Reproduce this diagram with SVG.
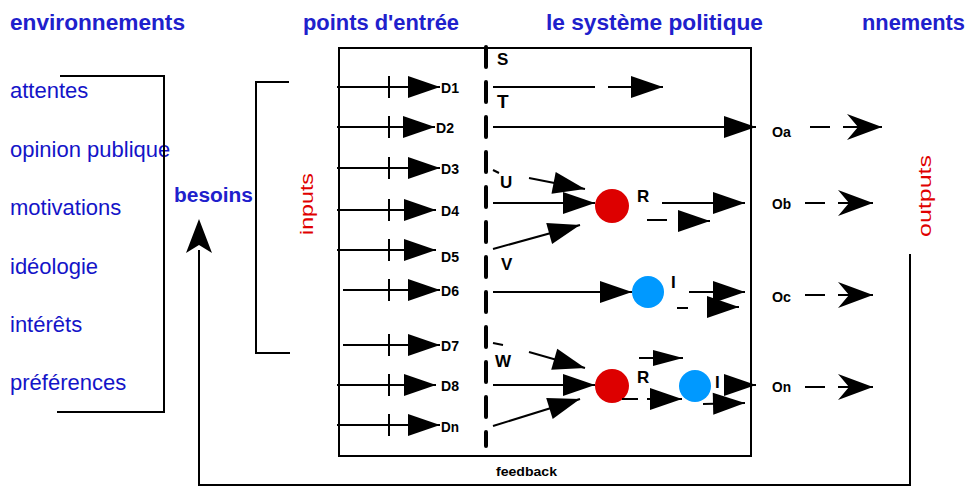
<svg xmlns="http://www.w3.org/2000/svg" width="970" height="487" viewBox="0 0 970 487">
<defs>
<marker id="tri" markerUnits="userSpaceOnUse" markerWidth="34" markerHeight="22" refX="32" refY="11" orient="auto" overflow="visible"><path d="M0,0 L32,11 L0,22 z" fill="#000"/></marker>
<marker id="triS" markerUnits="userSpaceOnUse" markerWidth="30" markerHeight="16" refX="30" refY="8" orient="auto" overflow="visible"><path d="M0,0 L30,8 L0,16 z" fill="#000"/></marker>
<marker id="barb" markerUnits="userSpaceOnUse" markerWidth="35" markerHeight="26" refX="35" refY="13" orient="auto" overflow="visible"><path d="M0,0 L35,13 L0,26 L11,13 z" fill="#000"/></marker>
</defs>
<style>
.hd{font-family:"Liberation Sans",Arial,sans-serif;font-weight:bold;font-size:22px;fill:#2020cc}
.ls{font-family:"Liberation Sans",Arial,sans-serif;font-size:22px;fill:#1414c8}
.red{font-family:"Liberation Sans",Arial,sans-serif;font-size:18px;fill:#e00000}
.d{font-family:"Liberation Sans",Arial,sans-serif;font-weight:bold;font-size:14px;fill:#000}
.lt{font-family:"Liberation Sans",Arial,sans-serif;font-weight:bold;font-size:17px;fill:#000}
.ln{stroke:#000;stroke-width:2;fill:none}
.a{stroke:#000;stroke-width:2;fill:none;marker-end:url(#tri)}
.as{stroke:#000;stroke-width:2;fill:none;marker-end:url(#triS)}
.ab{stroke:#000;stroke-width:2;fill:none;marker-end:url(#barb)}
.dv{stroke:#000;stroke-width:4;stroke-linecap:round;stroke-dasharray:20 15;fill:none}
.rc{fill:#dd0000}
.bc{fill:#0099ff}
</style>

<g id="headers">
<text class="hd" x="10" y="30" textLength="175" lengthAdjust="spacingAndGlyphs">environnements</text>
<text class="hd" x="303" y="30" textLength="156" lengthAdjust="spacingAndGlyphs">points d'entrée</text>
<text class="hd" x="546" y="30" textLength="217" lengthAdjust="spacingAndGlyphs">le système politique</text>
<text class="hd" x="862" y="30" textLength="103" lengthAdjust="spacingAndGlyphs">nnements</text>
</g>

<g id="environnement-list">
<text class="ls" x="10" y="98">attentes</text>
<text class="ls" x="10" y="157">opinion publique</text>
<text class="ls" x="10" y="215">motivations</text>
<text class="ls" x="10" y="274">idéologie</text>
<text class="ls" x="10" y="332">intérêts</text>
<text class="ls" x="10" y="390">préférences</text>
</g>

<g id="besoins">
<text class="hd" x="174" y="202" style="font-size:20px" textLength="79" lengthAdjust="spacingAndGlyphs">besoins</text>
</g>

<g id="inputs-label">
<text class="red" transform="translate(313,204) rotate(-90)" text-anchor="middle" textLength="62" lengthAdjust="spacingAndGlyphs">inputs</text>
</g>

<g id="outputs-label">
<text class="red" transform="translate(931,196) rotate(-90)" text-anchor="middle" textLength="82" lengthAdjust="spacingAndGlyphs">outputs</text>
</g>

<g id="systeme-box">
<rect x="339" y="48" width="412" height="408" class="ln"/>
</g>

<g id="entry-labels">
<text class="d" x="441" y="93" textLength="18" lengthAdjust="spacingAndGlyphs">D1</text>
<text class="d" x="436" y="133" textLength="18" lengthAdjust="spacingAndGlyphs">D2</text>
<text class="d" x="441" y="174" textLength="18" lengthAdjust="spacingAndGlyphs">D3</text>
<text class="d" x="441" y="216" textLength="18" lengthAdjust="spacingAndGlyphs">D4</text>
<text class="d" x="441" y="262" textLength="18" lengthAdjust="spacingAndGlyphs">D5</text>
<text class="d" x="441" y="296" textLength="18" lengthAdjust="spacingAndGlyphs">D6</text>
<text class="d" x="441" y="351" textLength="18" lengthAdjust="spacingAndGlyphs">D7</text>
<text class="d" x="441" y="391" textLength="18" lengthAdjust="spacingAndGlyphs">D8</text>
<text class="d" x="441" y="432" textLength="18" lengthAdjust="spacingAndGlyphs">Dn</text>
</g>

<g id="process-labels">
<text class="lt" x="497" y="65">S</text>
<text class="lt" x="497" y="108" style="font-size:19px">T</text>
<text class="lt" x="500" y="188">U</text>
<text class="lt" x="501" y="270">V</text>
<text class="lt" x="495" y="367">W</text>
<text class="lt" x="637" y="202">R</text>
<text class="lt" x="637" y="383">R</text>
<text class="lt" x="671" y="288">I</text>
<text class="lt" x="715" y="388">I</text>
<text class="d" x="496" y="476" style="font-size:12px" textLength="61" lengthAdjust="spacingAndGlyphs">feedback</text>
</g>

<g id="outputs">
<text class="d" x="772" y="137" style="font-size:15px" textLength="19" lengthAdjust="spacingAndGlyphs">Oa</text>
<text class="d" x="772" y="209" style="font-size:15px" textLength="19" lengthAdjust="spacingAndGlyphs">Ob</text>
<text class="d" x="772" y="302" style="font-size:15px" textLength="19" lengthAdjust="spacingAndGlyphs">Oc</text>
<text class="d" x="772" y="392" style="font-size:15px" textLength="19" lengthAdjust="spacingAndGlyphs">On</text>
</g>

<g id="nodes">
<circle id="r1" class="rc" cx="612" cy="206" r="17"/>
<circle id="i1" class="bc" cx="648" cy="292" r="16"/>
<circle id="r2" class="rc" cx="612" cy="386" r="17"/>
<circle id="i2" class="bc" cx="695" cy="386" r="16"/>
</g>

<g id="connectors">
<polyline class="ln" points="60,76 164,76 164,412 57,412"/>
<polyline class="ln" points="289,82 256,82 256,353 290,353"/>
<polyline class="ln" points="910,254 910,485 199,485 199,250"/>
<path d="M199,219 L212,253 L199,245 L186,253 z" fill="#000"/>
<line class="dv" x1="486" y1="47" x2="486" y2="446"/>
<line class="a" x1="337" y1="87" x2="440" y2="87"/>
<line class="a" x1="337" y1="127" x2="435" y2="127"/>
<line class="a" x1="337" y1="168" x2="440" y2="168"/>
<line class="a" x1="337" y1="210" x2="436" y2="210"/>
<line class="a" x1="337" y1="250" x2="436" y2="250"/>
<line class="a" x1="343" y1="290" x2="440" y2="290"/>
<line class="a" x1="343" y1="345" x2="440" y2="345"/>
<line class="a" x1="337" y1="385" x2="436" y2="385"/>
<line class="a" x1="337" y1="425" x2="440" y2="425"/>
<path class="ln" d="M389,76 V98 M389,116 V138 M389,157 V179 M389,199 V221 M389,239 V261 M389,279 V301 M389,334 V356 M389,374 V396 M389,414 V436"/>
<line class="ln" x1="493" y1="87" x2="595" y2="87"/>
<line class="a" x1="608" y1="87" x2="663" y2="87"/>
<line class="a" x1="493" y1="127" x2="756" y2="127"/>
<line class="ln" x1="493" y1="170" x2="499" y2="173"/>
<line class="a" x1="529" y1="178" x2="585" y2="189"/>
<line class="a" x1="493" y1="203" x2="595" y2="203"/>
<line class="a" x1="493" y1="249" x2="580" y2="225"/>
<line class="a" x1="662" y1="203" x2="745" y2="203"/>
<line class="ln" x1="647" y1="220" x2="667" y2="220"/>
<line class="a" x1="678" y1="221" x2="710" y2="221"/>
<line class="a" x1="493" y1="292" x2="632" y2="292"/>
<line class="a" x1="689" y1="292" x2="745" y2="292"/>
<line class="ln" x1="677" y1="308" x2="688" y2="308"/>
<line class="a" x1="707" y1="307" x2="739" y2="307"/>
<line class="ln" x1="493" y1="343" x2="503" y2="345"/>
<line class="a" x1="529" y1="352" x2="585" y2="368"/>
<line class="a" x1="493" y1="385" x2="595" y2="385"/>
<line class="a" x1="493" y1="426" x2="580" y2="399"/>
<line class="as" x1="639" y1="358" x2="683" y2="358"/>
<line class="ln" x1="622" y1="399" x2="638" y2="399"/>
<line class="a" x1="647" y1="399" x2="682" y2="399"/>
<line class="a" x1="727" y1="385" x2="756" y2="385"/>
<line class="a" x1="703" y1="404" x2="745" y2="403"/>
<line class="ln" x1="810" y1="127" x2="830" y2="127"/>
<line class="ab" x1="843" y1="127" x2="882" y2="127"/>
<line class="ln" x1="805" y1="203" x2="825" y2="203"/>
<line class="ab" x1="838" y1="203" x2="873" y2="203"/>
<line class="ln" x1="805" y1="295" x2="825" y2="295"/>
<line class="ab" x1="838" y1="295" x2="873" y2="295"/>
<line class="ln" x1="805" y1="387" x2="825" y2="387"/>
<line class="ab" x1="838" y1="387" x2="873" y2="387"/>
</g>
</svg>
